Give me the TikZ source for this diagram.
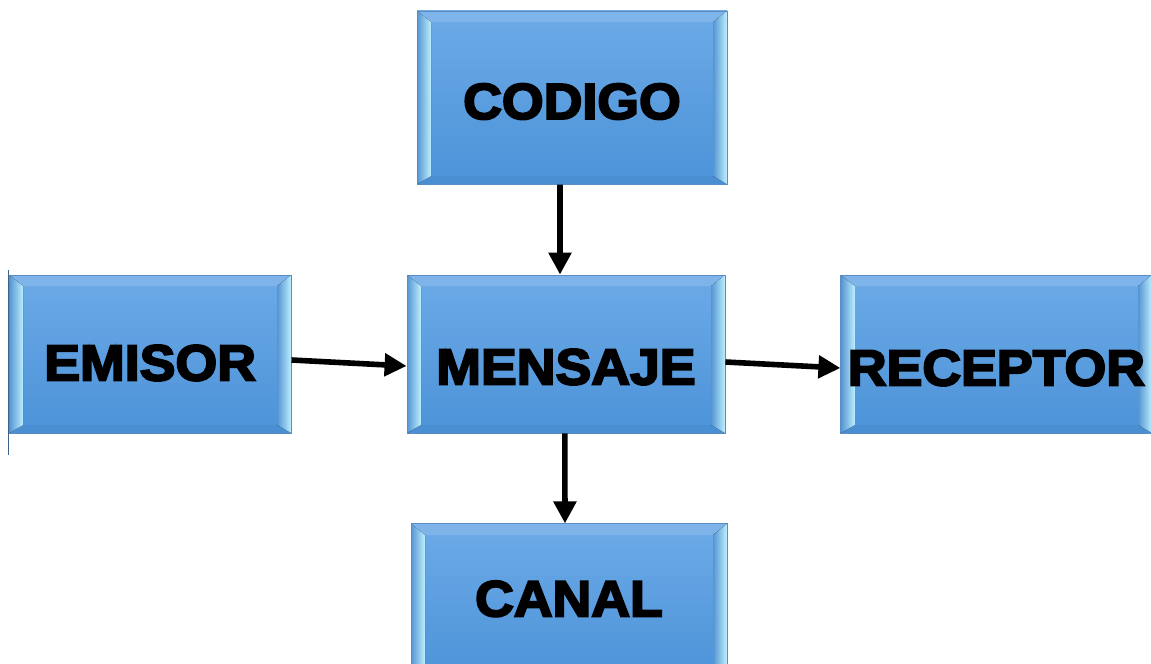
\documentclass[tikz,border=0pt]{standalone}
\usepackage{fontspec}
\usepackage{xcolor}
\usepackage{tikz}
\usetikzlibrary{arrows.meta, positioning}
\newfontfamily\boxfont[FakeBold=4, FakeStretch=1.06]{Liberation Sans Bold}
\definecolor{faceTop}{HTML}{6CAAE7}
\definecolor{faceBot}{HTML}{4C93D8}
\definecolor{edgeBlue}{HTML}{5A8CC4}
\definecolor{bevLight}{HTML}{BDEFFF}
\definecolor{bevDark}{HTML}{5595D2}

\tikzset{
  bevelbox/.style={minimum width=7.95cm, minimum height=3.95cm, inner sep=0pt,
    top color=faceTop, bottom color=faceBot, draw=edgeBlue, line width=0.6pt,
    font=\boxfont\fontsize{36}{42}\selectfont, text height=1.32cm, text depth=0pt,
    path picture={
      \coordinate (bbl) at (path picture bounding box.south west);
      \coordinate (btr) at (path picture bounding box.north east);
      % top and bottom bevel
      \fill[faceTop!88!white] (bbl |- btr) -- (btr) -- ([shift={(-0.35,-0.28)}]btr) -- ([shift={(0.35,-0.28)}]bbl |- btr) -- cycle;
      \fill[faceBot!97!black] (bbl) -- (bbl -| btr) -- ([shift={(-0.35,0.2)}]bbl -| btr) -- ([shift={(0.35,0.2)}]bbl) -- cycle;
      % left and right bevel
      \fill[left color=bevDark, right color=bevLight] (bbl) -- (bbl |- btr) -- ([shift={(0.35,-0.28)}]bbl |- btr) -- ([shift={(0.35,0.2)}]bbl) -- cycle;
      \fill[left color=bevDark, right color=bevLight] (bbl -| btr) -- (btr) -- ([shift={(-0.35,-0.28)}]btr) -- ([shift={(-0.35,0.2)}]bbl -| btr) -- cycle;
    }},
  flow/.style={-{Triangle[length=0.55cm, width=0.55cm]}, line width=0.14cm}
}

\begin{document}
\begin{tikzpicture}
    \useasboundingbox (0,0) rectangle (28.775,-16.6);
    % central box
    \node[bevelbox, text height=1.52cm] (mensaje) at (14.15,-8.85) {MENSAJE};
    % surrounding boxes
    \node[bevelbox, minimum width=7.75cm, minimum height=4.33cm, text height=1.07cm, above=2.25cm of mensaje, xshift=0.15cm] (codigo) {CODIGO};
    \node[bevelbox, minimum width=7.05cm, left=2.875cm of mensaje] (emisor) {EMISOR};
    \node[bevelbox, minimum width=7.78cm, text height=1.57cm, right=2.875cm of mensaje] (receptor) {RECEPTOR};
    \node[bevelbox, minimum width=7.9cm, text height=0.67cm, below=2.25cm of mensaje, xshift=0.075cm] (canal) {CANAL};
    % edge line at the left of the emisor box
    \draw[edgeBlue!70!black, line width=1pt] ([yshift=0.12cm]emisor.north west) -- ([yshift=-0.55cm]emisor.south west);
    % Arrows
    \draw[flow] ([xshift=-0.3cm]codigo.south) -- ([xshift=-0.15cm]mensaje.north);
    \draw[flow] ([yshift=-0.15cm]emisor.east) -- ([yshift=-0.3cm]mensaje.west);
    \draw[flow] ([yshift=-0.2cm]mensaje.east) -- ([yshift=-0.35cm]receptor.west);
    \draw[flow] ([xshift=-0.03cm]mensaje.south) -- ([xshift=-0.1cm]canal.north);
\end{tikzpicture}
\end{document}
